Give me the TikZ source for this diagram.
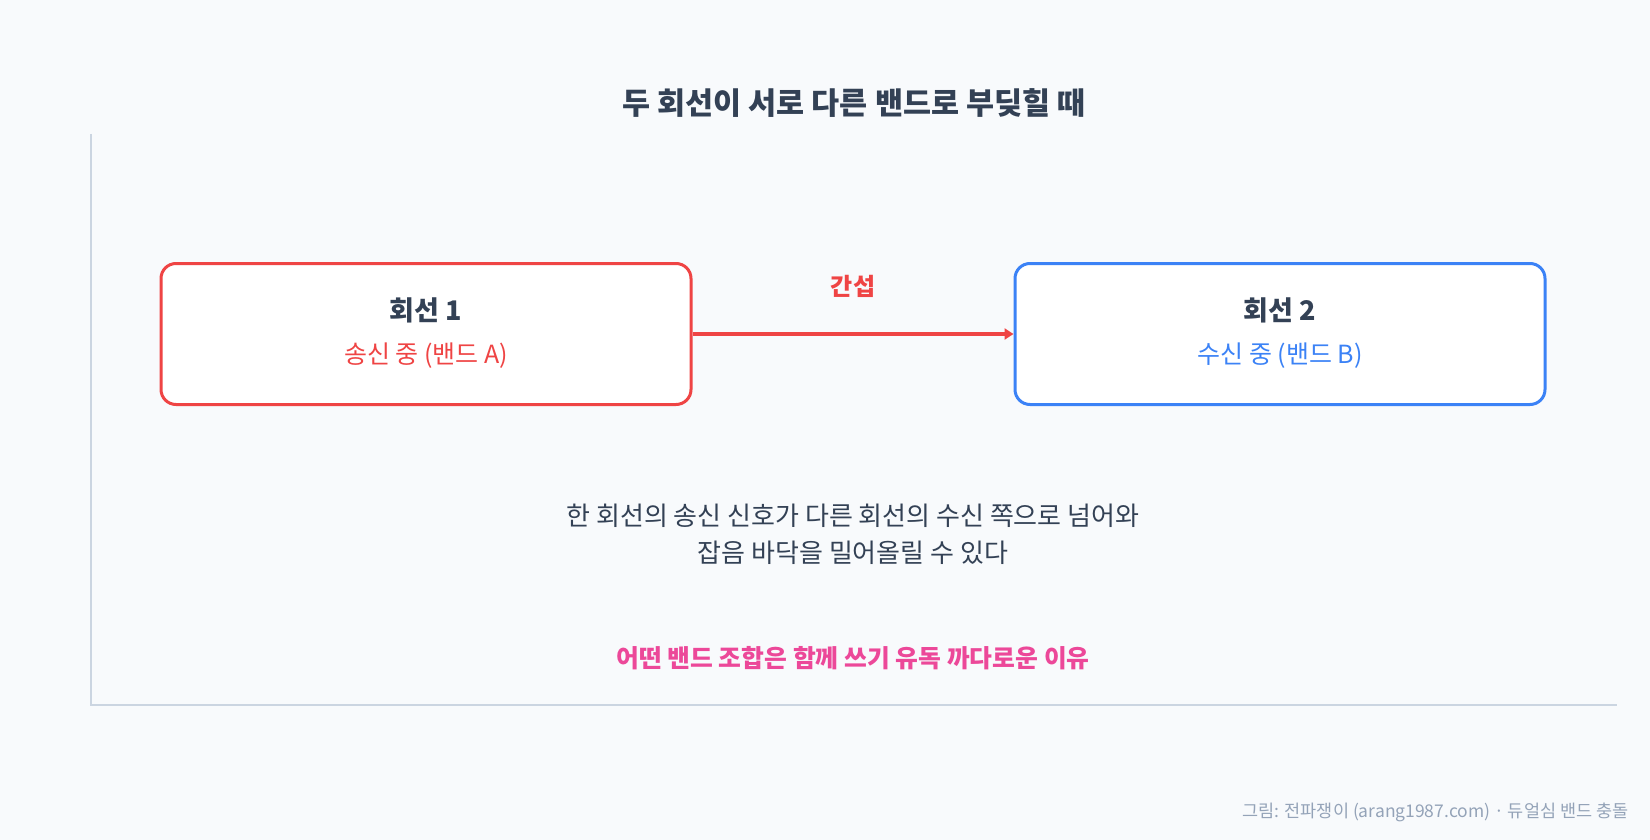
\documentclass[tikz,border=0pt]{standalone}
\usepackage{fontspec}
\setmainfont{Noto Sans CJK KR}
\usetikzlibrary{arrows.meta}
\definecolor{bgc}{HTML}{F8FAFC}
\definecolor{axisc}{HTML}{CBD5E1}
\definecolor{ink}{HTML}{334155}
\definecolor{redc}{HTML}{EF4444}
\definecolor{bluec}{HTML}{3B82F6}
\definecolor{pinkc}{HTML}{EC4899}
\definecolor{grayc}{HTML}{94A3B8}
\newcommand{\fsz}[1]{\fontsize{#1}{#1}\selectfont}
\begin{document}
\begin{tikzpicture}[x=1pt,y=-1pt,
    linebox/.style={draw=#1,line width=3pt,fill=white,rounded corners=15pt,
        minimum width=530pt,minimum height=141pt},
    ]
\fill[bgc] (0,0) rectangle (1650,840);
\useasboundingbox (0,0) rectangle (1650,840);
\coordinate (T) at (91,134);
\coordinate (O) at (91,705);
\coordinate (E) at (1617,705);
\draw[axisc,line width=1.5pt] (T) -- (O) -- (E);
\node[text=ink] (title) at (854,103) {\fsz{30.5}\bfseries 두 회선이 서로 다른 밴드로 부딪힐 때};
\node[linebox=redc] (L1) at (426,334) {};
\node[linebox=bluec] (L2) at (1280,334) {};
\node[text=ink] (L1t) at (426,310) {\fsz{27}\bfseries 회선 1};
\node[text=redc] (L1s) at (426,356) {\fsz{25}송신 중 (밴드 A)};
\node[text=ink] (L2t) at (1280,310) {\fsz{27}\bfseries 회선 2};
\node[text=bluec] (L2s) at (1280,356) {\fsz{25}수신 중 (밴드 B)};
\draw[redc,line width=4.5pt,-{Triangle[length=9pt,width=11pt]}] (L1.east) -- (L2.west)
    node[midway,above=31pt,text=redc] {\fsz{24}\bfseries 간섭};
\node[text=ink,align=center,font={\fontsize{26}{37}\selectfont}] (note) at (853,534)
    {한 회선의 송신 신호가 다른 회선의 수신 쪽으로 넘어와\\
     잡음 바닥을 밀어올릴 수 있다};
\node[text=pinkc] (why) at (853,658) {\fsz{24.8}\bfseries 어떤 밴드 조합은 함께 쓰기 유독 까다로운 이유};
\node[text=grayc,anchor=east] (credit) at (1632,812) {\fsz{17.5}그림: 전파쟁이 (arang1987.com) · 듀얼심 밴드 충돌};
\end{tikzpicture}
\end{document}
